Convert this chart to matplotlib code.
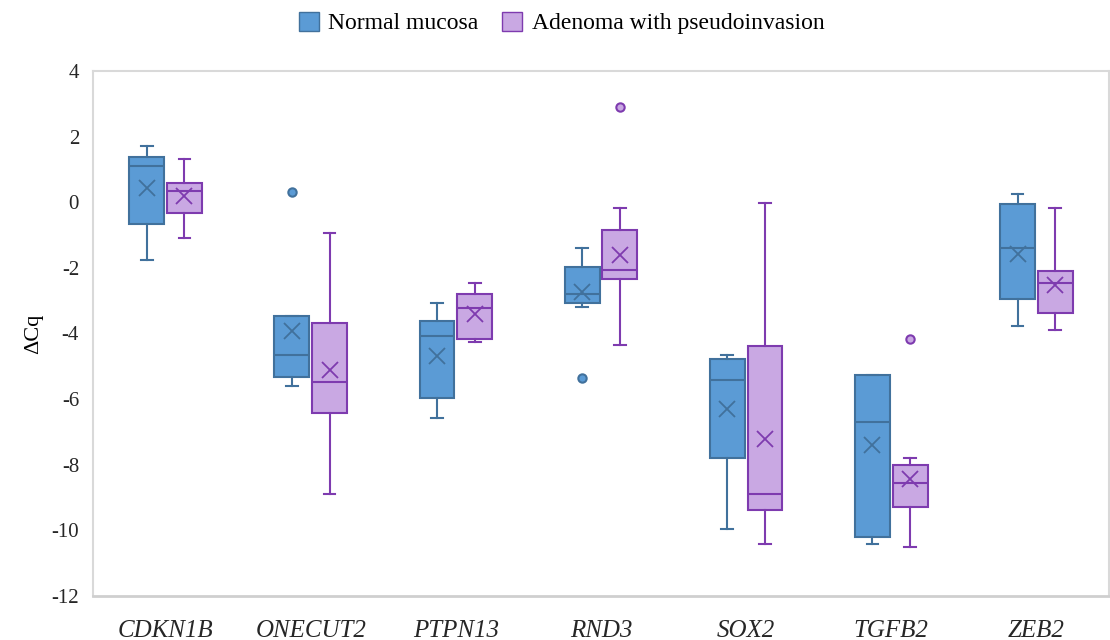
import numpy as np
import matplotlib.pyplot as plt
from matplotlib.patches import Patch

plt.rcParams["axes.unicode_minus"] = False

genes = ["CDKN1B", "ONECUT2", "PTPN13", "RND3", "SOX2", "TGFB2", "ZEB2"]

# Normal mucosa
nm_whislo = [-1.76, -5.59, -6.59, -3.18, -9.97, -10.42, -3.78]
nm_q1 = [-0.66, -5.32, -5.98, -3.08, -7.80, -10.20, -2.96]
nm_med = [1.10, -4.67, -4.07, -2.80, -5.43, -6.69, -1.38]
nm_q3 = [1.37, -3.46, -3.63, -1.98, -4.78, -5.27, -0.06]
nm_whishi = [1.70, -3.46, -3.08, -1.38, -4.67, -5.27, 0.26]
nm_mean = [0.43, -3.91, -4.68, -2.75, -6.30, -7.40, -1.58]
nm_fliers = [[], [0.32], [], [-5.36], [], [], []]

# Adenoma with pseudoinvasion
ad_whislo = [-1.10, -8.88, -4.27, -4.34, -10.42, -10.52, -3.89]
ad_q1 = [-0.34, -6.42, -4.18, -2.35, -9.37, -9.28, -3.37]
ad_med = [0.33, -5.49, -3.23, -2.05, -8.89, -8.55, -2.47]
ad_q3 = [0.60, -3.68, -2.81, -0.84, -4.39, -8.01, -2.10]
ad_whishi = [1.32, -0.94, -2.47, -0.18, -0.01, -7.80, -0.18]
ad_mean = [0.20, -5.10, -3.41, -1.61, -7.20, -8.44, -2.52]
ad_fliers = [[], [], [], [2.89], [], [-4.17], []]

blue_fill, blue_edge = "#5B9BD5", "#41719C"
purp_fill, purp_edge = "#C9A8E3", "#7E3BAF"


def make_stats(whislo, q1, med, q3, whishi, mean, fliers):
    return [dict(whislo=a, q1=b, med=c, q3=d, whishi=e, mean=f, fliers=g)
            for a, b, c, d, e, f, g in zip(whislo, q1, med, q3, whishi, mean, fliers)]


nm_stats = make_stats(nm_whislo, nm_q1, nm_med, nm_q3, nm_whishi, nm_mean, nm_fliers)
ad_stats = make_stats(ad_whislo, ad_q1, ad_med, ad_q3, ad_whishi, ad_mean, ad_fliers)

fig = plt.figure(figsize=(11.1, 6.4), dpi=100)
ax = fig.add_axes([93 / 1110, 1 - 596 / 640, 1016 / 1110, 525 / 640])

x = np.arange(len(genes))
off = 0.13
w = 0.24


def draw(stats, pos, fill, edge, flier_face):
    ax.bxp(stats, positions=pos, widths=w, patch_artist=True, showmeans=True,
           capwidths=0.08,
           boxprops=dict(facecolor=fill, edgecolor=edge, linewidth=1.5),
           medianprops=dict(color=edge, linewidth=1.5),
           whiskerprops=dict(color=edge, linewidth=1.5),
           capprops=dict(color=edge, linewidth=1.5),
           meanprops=dict(marker="x", markeredgecolor=edge, markersize=12,
                          markeredgewidth=1.3),
           flierprops=dict(marker="o", markerfacecolor=flier_face,
                           markeredgecolor=edge, markersize=6,
                           markeredgewidth=1.5))


draw(nm_stats, x - off, blue_fill, blue_edge, blue_fill)
draw(ad_stats, x + off, purp_fill, purp_edge, purp_fill)

ax.set_xlim(-0.5, len(genes) - 0.5)
ax.set_ylim(-12, 4)
ax.set_yticks(np.arange(-12, 5, 2))
ax.set_xticks(x)
ax.set_xticklabels(genes, fontfamily="Liberation Serif", fontstyle="italic",
                   fontsize=18)
for lab in ax.get_yticklabels():
    lab.set_fontfamily("Liberation Serif")
    lab.set_fontsize(15)
ax.tick_params(axis="both", length=0, colors="#262626")
ax.tick_params(axis="y", pad=10)
ax.tick_params(axis="x", pad=17)
ax.set_ylabel("ΔCq", fontfamily="Liberation Serif", fontsize=16, labelpad=6)

for side in ["left", "top", "right"]:
    ax.spines[side].set_color("#D9D9D9")
    ax.spines[side].set_linewidth(1.5)
ax.spines["bottom"].set_color("#CFCFCF")
ax.spines["bottom"].set_linewidth(2)

handles = [Patch(facecolor=blue_fill, edgecolor=blue_edge, label="Normal mucosa"),
           Patch(facecolor=purp_fill, edgecolor=purp_edge, label="Adenoma with pseudoinvasion")]
fig.legend(handles=handles, loc="center", bbox_to_anchor=(0.506, 1 - 23 / 640),
           ncol=2, frameon=False, handlelength=0.85, handleheight=0.85,
           handletextpad=0.4, columnspacing=1.0,
           prop=dict(family="Liberation Serif", size=17))

fig.savefig("out.png", dpi=100)
